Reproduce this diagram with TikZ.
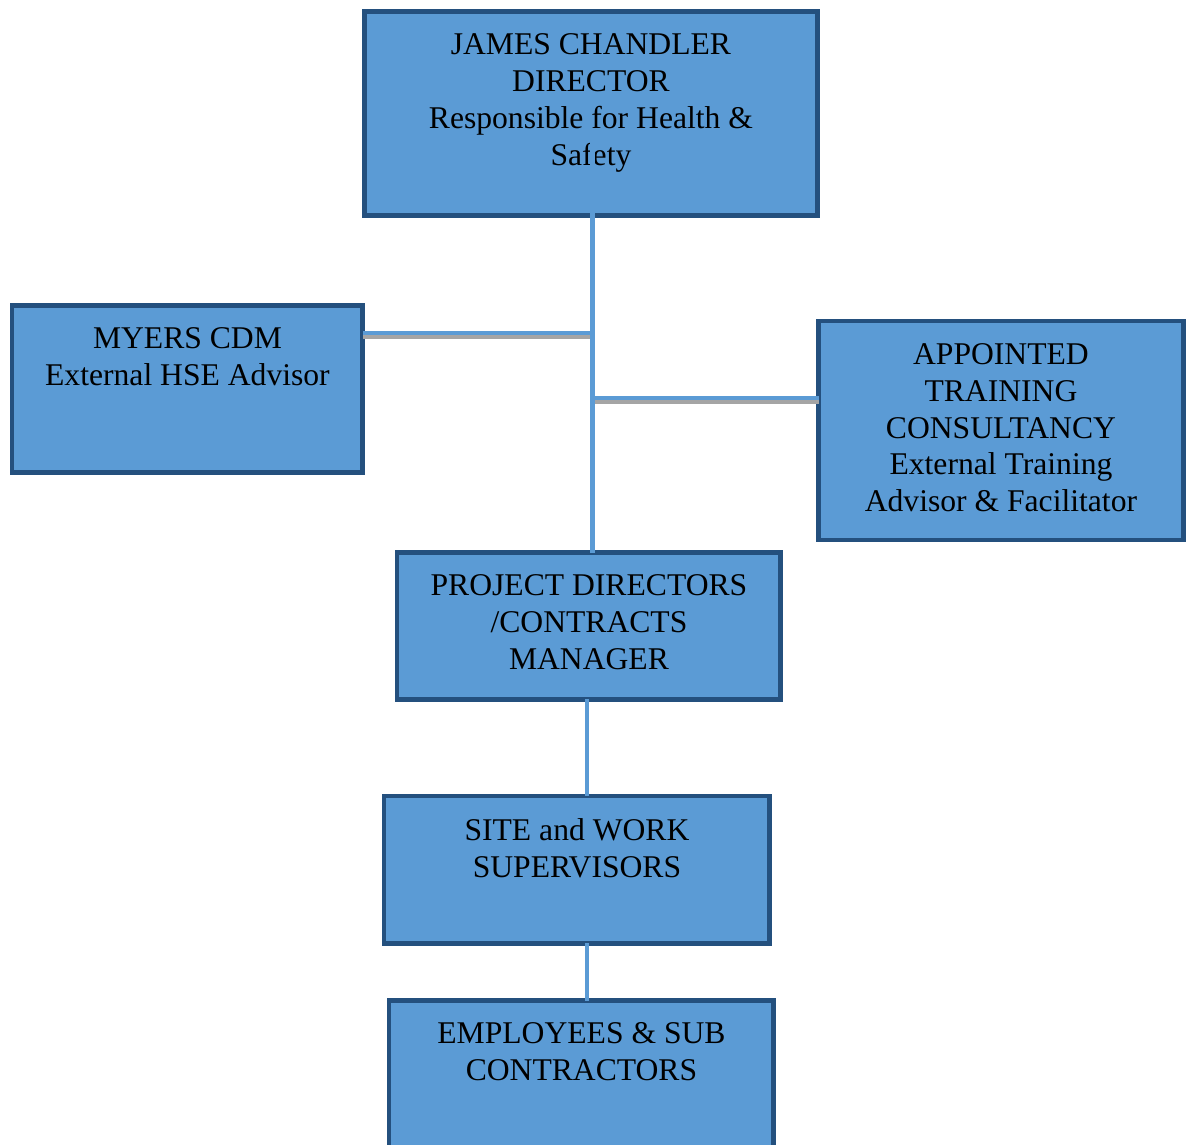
\documentclass[tikz,border=0pt]{standalone}
\usepackage{fontspec}
\setmainfont{Liberation Serif}
\usetikzlibrary{positioning}
\definecolor{boxfill}{HTML}{5B9BD5}
\definecolor{boxedge}{HTML}{24507E}
\definecolor{shade}{HTML}{A5A5A5}
\tikzset{
    box/.style={draw=boxedge,fill=boxfill,line width=2.8pt,anchor=north west,inner sep=0pt,outer sep=0pt},
    txt/.style={align=center,inner sep=0pt,font=\fontsize{18}{21}\selectfont},
    conn/.style={draw=boxfill,line width=2.8pt},
    shadowed/.style={preaction={draw=shade,line width=2.8pt,transform canvas={yshift=-0.08cm}}}
}
\begin{document}
\begin{tikzpicture}[x=0.02cm,y=-0.02cm]
        \useasboundingbox (0,0) rectangle (1186,1144);
        \clip (0,0) rectangle (1186,1144);
        
        \node[box,minimum width=9.06cm,minimum height=4.08cm](dir)at(364.5,11.5) {};
        \node[box,minimum width=7.02cm,minimum height=3.34cm](myers)at(12,305.5) {};
        \node[box,minimum width=7.30cm,minimum height=4.38cm](train)at(818.5,321) {};
        \node[box,minimum width=7.68cm,minimum height=2.94cm](proj)at(397,552.5) {};
        \node[box,minimum width=7.72cm,minimum height=2.95cm](site)at(384,796) {};
        \node[box,minimum width=7.70cm,minimum height=3.30cm](emp)at(389,1000.5) {};
        
        \node[txt,below=0.44cm of dir.north](dirtxt) {JAMES CHANDLER\\DIRECTOR\\Responsible for Health \&\\Safety};
        \node[txt,below=0.44cm of myers.north](myerstxt) {MYERS CDM\\External HSE Advisor};
        \node[txt,below=0.44cm of train.north](traintxt) {APPOINTED\\TRAINING\\CONSULTANCY\\External Training\\Advisor \& Facilitator};
        \node[txt,below=0.44cm of proj.north](projtxt) {PROJECT DIRECTORS\\/CONTRACTS\\MANAGER};
        \node[txt,below=0.44cm of site.north](sitetxt) {SITE and WORK\\SUPERVISORS};
        \node[txt,below=0.44cm of emp.north](emptxt) {EMPLOYEES \& SUB\\CONTRACTORS};
        
        \coordinate(top)at(592.5,133);
        \coordinate(left)at(592.5,333);
        \coordinate(right)at(592.5,398);
        \coordinate(mid)at(587,700);
        
        \draw[conn,shadowed](myers.east |- left) -- (left);
        \draw[conn,shadowed](right) -- (train.west |- right);
        \draw[conn](top) -- (top |- proj.north);
        \draw[conn](mid |- proj.south) -- (mid |- site.north);
        \draw[conn](mid |- site.south) -- (mid |- emp.north);
    \end{tikzpicture}
\end{document}
